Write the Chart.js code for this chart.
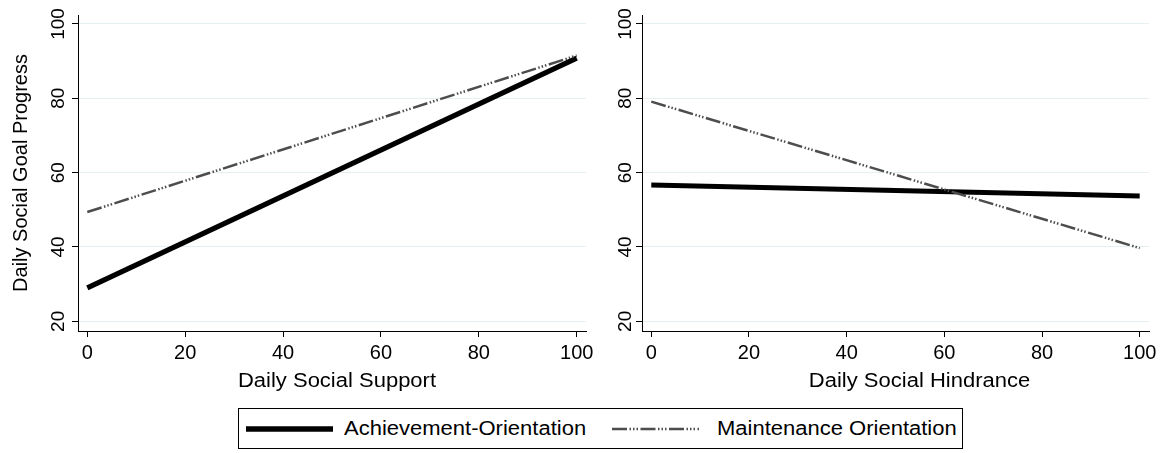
<!DOCTYPE html>
<html>
<head>
<meta charset="utf-8">
<script src="https://cdn.jsdelivr.net/npm/chart.js@4.4.1/dist/chart.umd.min.js"></script>
<style>
  html, body { margin: 0; padding: 0; background: #fff; }
  body { width: 1169px; height: 453px; position: relative; overflow: hidden; font-family: "Liberation Sans", Arial, sans-serif; }
  .panel { position: absolute; top: 0; height: 400px; }
  #legend { position: absolute; left: 238px; top: 408px; width: 725px; height: 41px; border: 1px solid #000; box-sizing: border-box; }
  #legend span { position: absolute; top: 0; line-height: 39px; font-size: 20px; color: #000; white-space: nowrap; transform: scaleX(1.1); transform-origin: 0 50%; }
  #legend svg { position: absolute; left: 0; top: 0; }
</style>
</head>
<body>
<div class="panel" style="left:0;width:600px"><canvas id="supportChart" width="600" height="400"></canvas></div>
<div class="panel" style="left:590px;width:579px"><canvas id="hindranceChart" width="579" height="400"></canvas></div>
<div id="legend">
  <svg width="725" height="39">
    <line x1="7" y1="20" x2="94" y2="20" stroke="#000" stroke-width="5.5"/>
    <line id="dashKey" x1="373" y1="20" x2="460" y2="20" stroke="#4d4d4d" stroke-width="2.5"/>
  </svg>
  <span style="left:105px">Achievement-Orientation</span>
  <span style="left:478px">Maintenance Orientation</span>
</div>
<script>
// data
const xValues = [0, 100];
const supportAchievement = [29.0, 90.8];
const supportMaintenance = [49.4, 91.5];
const hindranceAchievement = [56.7, 53.7];
const hindranceMaintenance = [79.1, 39.7];
const xTickLabels = [0, 20, 40, 60, 80, 100];
const yTickLabels = [20, 40, 60, 80, 100];
const seriesNames = ['Achievement-Orientation', 'Maintenance Orientation'];

const FONT = '"Liberation Sans", Arial, sans-serif';
const dashPattern = [15, 2.5, 1.5, 2, 1.5, 2, 1.5, 2.5];
const gridColor = '#e6eff2';

document.getElementById('dashKey').setAttribute('stroke-dasharray', dashPattern.join(' '));

function points(ys) {
    return xValues.map((x, i) => ({ x: x, y: ys[i] }));
}

// y tick labels stand up like the original, x title is drawn a bit wide
const panelText = {
    id: 'panelText',
    afterDraw(chart, args, opts) {
        const ctx = chart.ctx;
        const s = chart.scales.y;
        const sx = chart.scales.x;
        ctx.save();
        ctx.fillStyle = '#000';
        ctx.textAlign = 'center';
        ctx.textBaseline = 'alphabetic';
        ctx.font = '19px ' + FONT;
        yTickLabels.forEach(v => {
            ctx.save();
            ctx.translate(s.right - opts.gap, s.getPixelForValue(v));
            ctx.rotate(-Math.PI / 2);
            ctx.fillText(String(v), 0, 0);
            ctx.restore();
        });
        ctx.font = '20px ' + FONT;
        ctx.translate((sx.left + sx.right) / 2 + opts.titleShift, 387);
        ctx.scale(1.1, 1);
        ctx.fillText(opts.xTitle, 0, 0);
        ctx.restore();
    }
};

function makePanel(id, ach, mnt, xTitle, yTitle, pad, yWidth, gap, titleShift) {
    const ctx = document.getElementById(id).getContext('2d');
    return new Chart(ctx, {
        type: 'line',
        data: {
            datasets: [{
                label: seriesNames[0],
                data: points(ach),
                borderColor: '#000',
                borderWidth: 5,
                pointRadius: 0,
                order: 1
            }, {
                label: seriesNames[1],
                data: points(mnt),
                borderColor: '#4d4d4d',
                borderWidth: 2.5,
                borderDash: dashPattern,
                pointRadius: 0,
                order: 0
            }]
        },
        options: {
            responsive: false,
            animation: false,
            layout: { padding: pad },
            plugins: {
                legend: { display: false },
                tooltip: { enabled: false },
                panelText: { gap: gap, xTitle: xTitle, titleShift: titleShift }
            },
            scales: {
                x: {
                    type: 'linear',
                    min: -1.9,
                    max: 101.9,
                    afterBuildTicks: s => { s.ticks = xTickLabels.map(v => ({ value: v })); },
                    afterFit: s => { s.height = 69; },
                    ticks: { color: '#000', font: { family: FONT, size: 20 }, padding: 4, maxRotation: 0 },
                    grid: { drawOnChartArea: false, color: '#000', tickColor: '#000', tickLength: 6 },
                    border: { color: '#000', width: 1 }
                },
                y: {
                    min: 17.4,
                    max: 102.4,
                    afterBuildTicks: s => { s.ticks = yTickLabels.map(v => ({ value: v })); },
                    afterFit: s => { s.width = yWidth; },
                    ticks: { display: false },
                    grid: { color: gridColor, tickColor: '#000', tickLength: 6 },
                    border: { color: '#000', width: 1 },
                    title: { display: !!yTitle, text: yTitle, color: '#000', font: { family: FONT, size: 20 }, padding: { top: 5, bottom: 4 } }
                }
            }
        },
        plugins: [panelText]
    });
}

makePanel('supportChart', supportAchievement, supportMaintenance,
    'Daily Social Support', 'Daily Social Goal Progress',
    { left: 4, right: 14, top: 15, bottom: 0 }, 74, 14, 5);

makePanel('hindranceChart', hindranceAchievement, hindranceMaintenance,
    'Daily Social Hindrance', '',
    { left: 0, right: 20, top: 15, bottom: 0 }, 52, 11, 24);
</script>
</body>
</html>
